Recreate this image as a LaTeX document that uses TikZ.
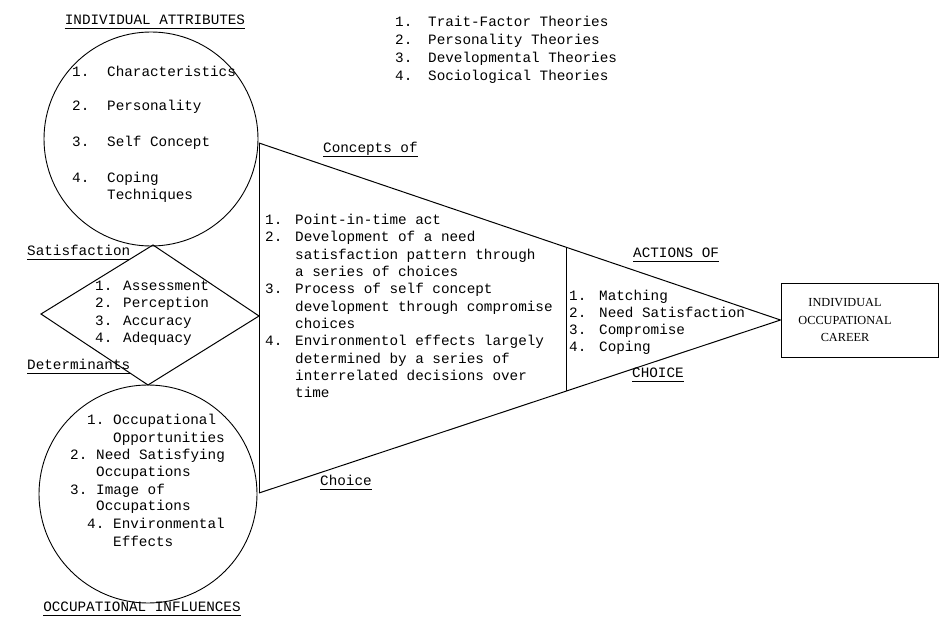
\documentclass[tikz,border=0pt]{standalone}
\usepackage{fontspec}
\setmainfont{Liberation Mono}
\newfontfamily\capserif{Liberation Serif}
\usetikzlibrary{calc}
\newcommand\itm[3]{\makebox[#1pt][l]{#2}#3}
\begin{document}
\begin{tikzpicture}[x=1pt,y=-1pt,
  line/.style={draw=black,line width=1pt},
  ring/.style={draw=black,line width=0.9pt,circle,inner sep=0pt},
  mono/.style={font=\fontsize{14.3}{17.3}\selectfont,inner sep=0pt,anchor=mid west},
  ctr/.style={mono,anchor=mid},
  ul/.style={draw=black,line width=0.8pt}]
\useasboundingbox[fill=white] (0,0) rectangle (944,620);

% top list of theories
\node[mono] (th1) at (395,23.5) {\itm{33}{1.}{Trait-Factor Theories}};
\node[mono] (th2) at (395,41.5) {\itm{33}{2.}{Personality Theories}};
\node[mono] (th3) at (395,59.5) {\itm{33}{3.}{Developmental Theories}};
\node[mono] (th4) at (395,77.5) {\itm{33}{4.}{Sociological Theories}};

% individual attributes circle
\node[ring,minimum size=214pt] (attr) at (151,139) {};
\node[ctr] (attrtitle) at (155,22) {INDIVIDUAL ATTRIBUTES};
\draw[ul] ([yshift=-3.5pt]attrtitle.base west) -- ([yshift=-3.5pt]attrtitle.base east);
\node[mono] (a1) at (72,74) {\itm{35}{1.}{Characteristics}};
\node[mono] (a2) at (72,108) {\itm{35}{2.}{Personality}};
\node[mono] (a3) at (72,144) {\itm{35}{3.}{Self Concept}};
\node[mono] (a4) at (72,180) {\itm{35}{4.}{Coping}};
\node[mono] (a4b) at (107,197) {Techniques};

% satisfaction diamond
\coordinate (dt) at (153,245);
\coordinate (dr) at (259,316);
\coordinate (db) at (148,385);
\coordinate (dl) at (41,314);
\draw[line] (dt) -- (dr) -- (db) -- (dl) -- cycle;
\node[mono] (sat) at (27,253) {Satisfaction};
\draw[ul] ([yshift=-3.5pt]sat.base west) -- ([yshift=-3.5pt]sat.base east);
\node[mono] (det) at (27,367) {Determinants};
\draw[ul] ([yshift=-3.5pt]det.base west) -- ([yshift=-3.5pt]det.base east);
\node[mono] (d1) at (95,288) {\itm{28}{1.}{Assessment}};
\node[mono] (d2) at (95,305.3) {\itm{28}{2.}{Perception}};
\node[mono] (d3) at (95,322.6) {\itm{28}{3.}{Accuracy}};
\node[mono] (d4) at (95,340) {\itm{28}{4.}{Adequacy}};

% occupational influences circle
\node[ring,minimum size=218pt] (occ) at (148,494) {};
\node[mono] (o1) at (87,422) {\itm{26}{1.}{Occupational}};
\node[mono] (o1b) at (113,440) {Opportunities};
\node[mono] (o2) at (70,457) {\itm{26}{2.}{Need Satisfying}};
\node[mono] (o2b) at (96,474) {Occupations};
\node[mono] (o3) at (70,492) {\itm{26}{3.}{Image of}};
\node[mono] (o3b) at (96,508) {Occupations};
\node[mono] (o4) at (87,526) {\itm{26}{4.}{Environmental}};
\node[mono] (o4b) at (113,544) {Effects};
\node[ctr] (occtitle) at (142,609) {OCCUPATIONAL INFLUENCES};
\draw[ul] ([yshift=-3.5pt]occtitle.base west) -- ([yshift=-3.5pt]occtitle.base east);

% career box
\node[line,minimum width=157pt,minimum height=74pt,inner sep=0pt] (career) at (859.5,320) {};
\node[font=\capserif\fontsize{12.3}{17.5}\selectfont,align=center,inner sep=0pt] (careertext) at (845,320) {INDIVIDUAL\\OCCUPATIONAL\\CAREER};

% triangle
\coordinate (A) at (259,143);
\coordinate (B) at (259,493);
\coordinate (P) at (career.west);
\coordinate (It) at ($(A)!0.59!(P)$);
\coordinate (Ib) at ($(B)!0.59!(P)$);
\draw[line] (A) -- (B);
\draw[line] (A) -- (P);
\draw[line] (B) -- (P);
\draw[line] (It) -- (Ib);

\node[mono] (conc) at (323,150) {Concepts of};
\draw[ul] ([yshift=-3.5pt]conc.base west) -- ([yshift=-3.5pt]conc.base east);
\node[mono] (choice) at (320,483) {Choice};
\draw[ul] ([yshift=-3.5pt]choice.base west) -- ([yshift=-3.5pt]choice.base east);

\node[mono] (c1) at (265,222) {\itm{30}{1.}{Point-in-time act}};
\node[mono] (c2) at (265,239.3) {\itm{30}{2.}{Development of a need}};
\node[mono] (c2b) at (295,256.6) {satisfaction pattern through};
\node[mono] (c2c) at (295,273.9) {a series of choices};
\node[mono] (c3) at (265,291.2) {\itm{30}{3.}{Process of self concept}};
\node[mono] (c3b) at (295,308.5) {development through compromise};
\node[mono] (c3c) at (295,325.8) {choices};
\node[mono] (c4) at (265,343.1) {\itm{30}{4.}{Environmentol effects largely}};
\node[mono] (c4b) at (295,360.4) {determined by a series of};
\node[mono] (c4c) at (295,377.7) {interrelated decisions over};
\node[mono] (c4d) at (295,395) {time};

\node[mono] (act) at (633,255) {ACTIONS OF};
\draw[ul] ([yshift=-3.5pt]act.base west) -- ([yshift=-3.5pt]act.base east);
\node[mono] (CH) at (632,375) {CHOICE};
\draw[ul] ([yshift=-3.5pt]CH.base west) -- ([yshift=-3.5pt]CH.base east);
\node[mono] (m1) at (569,298) {\itm{30}{1.}{Matching}};
\node[mono] (m2) at (569,314.8) {\itm{30}{2.}{Need Satisfaction}};
\node[mono] (m3) at (569,331.6) {\itm{30}{3.}{Compromise}};
\node[mono] (m4) at (569,348.4) {\itm{30}{4.}{Coping}};
\end{tikzpicture}
\end{document}
